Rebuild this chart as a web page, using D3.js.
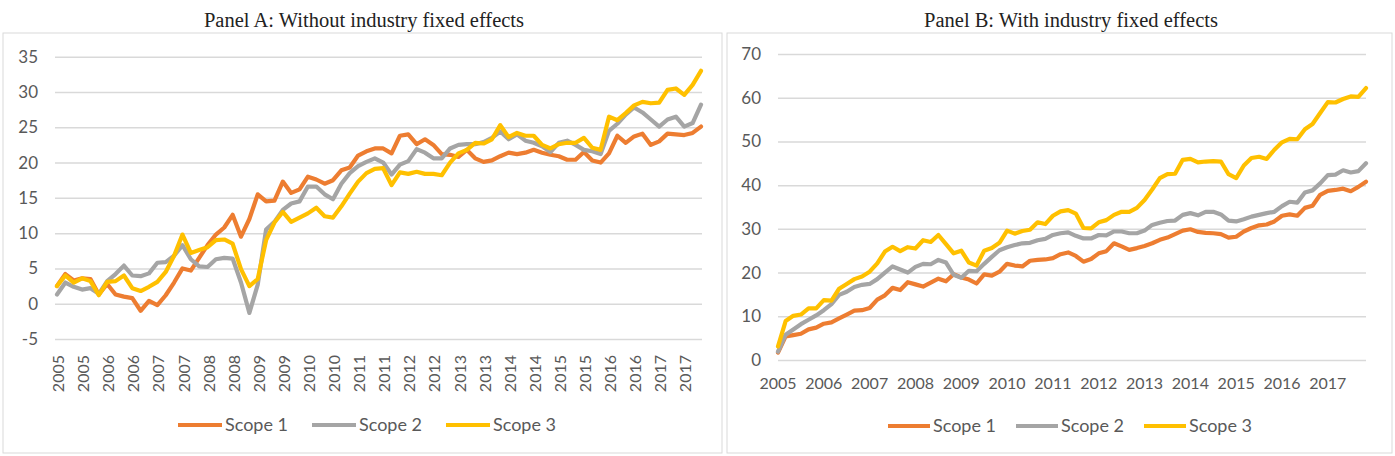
<!DOCTYPE html>
<html>
<head>
<meta charset="utf-8">
<script src="https://cdn.jsdelivr.net/npm/d3@7"></script>
<style>
  html, body { margin: 0; padding: 0; background: #fff; }
  svg { display: block; }
</style>
</head>
<body>
<svg id="chart" width="1395" height="456"></svg>
<script>
/* Two-panel line chart: cumulative scope 1/2/3 effects, bi-monthly samples 2005-2017 */

const SERIES_NAMES = ['Scope 1', 'Scope 2', 'Scope 3'];
const SERIES_COLORS = ['#ED7D31', '#A5A5A5', '#FFC000'];

// Panel A: category labels every third point (every six months)
const LABELS_A = ['2005', '2005', '2006', '2006', '2007', '2007', '2008', '2008', '2009', '2009',
  '2010', '2010', '2011', '2011', '2012', '2012', '2013', '2013', '2014', '2014',
  '2015', '2015', '2016', '2016', '2017', '2017'];
// Panel B: one label per year (every sixth point)
const LABELS_B = ['2005', '2006', '2007', '2008', '2009', '2010', '2011', '2012', '2013',
  '2014', '2015', '2016', '2017'];

const TICKS_A = [-5, 0, 5, 10, 15, 20, 25, 30, 35];
const TICKS_B = [0, 10, 20, 30, 40, 50, 60, 70];

const panelA_scope1 = [2.5, 4.2, 3.3, 3.6, 3.5, 1.3, 2.8, 1.3, 1.0, 0.8, -1.0, 0.4, -0.2, 1.2, 3.0, 5.0,
  4.7, 6.5, 8.3, 9.8, 10.8, 12.6, 9.5, 12.0, 15.5, 14.5, 14.6, 17.3, 15.7, 16.2, 18.0, 17.6,
  17.0, 17.5, 18.9, 19.3, 21.0, 21.6, 22.0, 22.0, 21.3, 23.8, 24.0, 22.6, 23.3, 22.5, 21.2, 21.1,
  20.8, 21.8, 20.6, 20.1, 20.3, 20.9, 21.4, 21.2, 21.4, 21.8, 21.4, 21.1, 20.9, 20.4, 20.4, 21.5,
  20.3, 20.0, 21.3, 23.8, 22.8, 23.7, 24.1, 22.5, 23.0, 24.1, 24.0, 23.9, 24.2, 25.1];
const panelA_scope2 = [1.3, 3.0, 2.4, 2.0, 2.2, 1.4, 3.2, 4.2, 5.4, 4.0, 3.9, 4.3, 5.8, 5.9, 6.8, 8.3,
  6.3, 5.3, 5.2, 6.3, 6.5, 6.4, 3.0, -1.3, 2.7, 10.5, 11.6, 13.3, 14.2, 14.5, 16.6, 16.6,
  15.5, 14.8, 17.0, 18.5, 19.5, 20.1, 20.6, 20.0, 18.3, 19.7, 20.2, 21.9, 21.4, 20.6, 20.6, 22.0,
  22.5, 22.6, 22.6, 22.9, 23.5, 24.4, 23.3, 24.0, 23.1, 22.8, 22.3, 21.5, 22.8, 23.1, 22.5, 21.8,
  21.6, 21.2, 24.5, 25.5, 26.8, 27.8, 27.1, 26.1, 25.1, 26.1, 26.5, 25.1, 25.6, 28.2];
const panelA_scope3 = [2.5, 4.0, 3.0, 3.6, 3.2, 1.2, 3.1, 3.2, 4.0, 2.2, 1.8, 2.4, 3.1, 4.5, 6.8, 9.8,
  7.2, 7.6, 8.0, 9.0, 9.1, 8.5, 4.9, 2.5, 3.5, 9.0, 11.5, 13.0, 11.6, 12.2, 12.8, 13.6,
  12.4, 12.2, 13.8, 15.6, 17.3, 18.5, 19.1, 19.2, 16.8, 18.6, 18.4, 18.7, 18.4, 18.4, 18.2, 20.0,
  21.3, 21.8, 22.8, 22.7, 23.3, 25.3, 23.6, 24.2, 23.8, 23.8, 22.5, 22.0, 22.6, 22.8, 22.8, 23.5,
  22.1, 21.8, 26.5, 26.0, 27.0, 28.1, 28.6, 28.4, 28.5, 30.3, 30.5, 29.6, 31.0, 33.0];

const panelB_scope1 = [1.7, 5.4, 5.7, 6.0, 7.0, 7.4, 8.3, 8.6, 9.5, 10.4, 11.3, 11.4, 11.9, 13.8, 14.8, 16.5,
  16.0, 17.8, 17.3, 16.8, 17.7, 18.6, 18.0, 19.6, 18.9, 18.4, 17.5, 19.6, 19.3, 20.2, 22.0, 21.6,
  21.4, 22.7, 22.9, 23.0, 23.3, 24.2, 24.6, 23.8, 22.5, 23.1, 24.4, 24.9, 26.7, 26.0, 25.2, 25.6,
  26.1, 26.7, 27.5, 28.0, 28.8, 29.6, 29.9, 29.3, 29.1, 29.0, 28.8, 28.0, 28.2, 29.4, 30.2, 30.8,
  31.0, 31.7, 33.0, 33.3, 33.0, 34.8, 35.3, 37.8, 38.7, 38.9, 39.2, 38.6, 39.6, 40.8];
const panelB_scope2 = [1.9, 5.8, 7.0, 8.2, 9.2, 10.2, 11.4, 12.8, 14.9, 15.6, 16.7, 17.2, 17.4, 18.5, 20.0, 21.4,
  20.7, 20.0, 21.3, 22.0, 21.9, 22.9, 22.3, 19.5, 18.8, 20.4, 20.3, 22.0, 23.6, 25.1, 25.8, 26.3,
  26.7, 26.8, 27.4, 27.7, 28.6, 29.0, 29.2, 28.4, 27.8, 27.8, 28.6, 28.5, 29.4, 29.4, 29.0, 29.0,
  29.6, 30.9, 31.4, 31.8, 31.9, 33.2, 33.6, 33.1, 33.9, 33.9, 33.3, 31.9, 31.7, 32.2, 32.8, 33.2,
  33.6, 33.9, 35.2, 36.2, 36.0, 38.3, 38.8, 40.4, 42.3, 42.4, 43.4, 42.9, 43.2, 45.0];
const panelB_scope3 = [3.1, 8.9, 10.1, 10.4, 11.8, 11.8, 13.7, 13.6, 16.3, 17.4, 18.5, 19.1, 20.2, 22.1, 24.8, 25.9,
  24.9, 25.8, 25.5, 27.4, 27.0, 28.6, 26.5, 24.4, 25.0, 22.3, 21.6, 25.0, 25.6, 26.8, 29.6, 28.9,
  29.5, 29.8, 31.5, 31.1, 33.0, 34.0, 34.3, 33.5, 30.2, 30.1, 31.5, 32.0, 33.2, 33.9, 33.9, 34.8,
  36.6, 39.0, 41.6, 42.5, 42.6, 45.8, 46.0, 45.2, 45.4, 45.5, 45.4, 42.5, 41.6, 44.5, 46.2, 46.5,
  46.0, 48.1, 49.8, 50.6, 50.5, 52.8, 54.0, 56.5, 59.0, 58.9, 59.7, 60.3, 60.2, 62.2];

const TEXT_FONT = 'Lato, "Open Sans", sans-serif';
const TEXT_COLOR = '#595959';
const GRID_COLOR = '#d9d9d9';
const LINE_W = 4.2;

const svg = d3.select('#chart');

function drawPanel(cfg) {
  const g = svg.append('g');

  g.append('rect')
    .attr('x', cfg.frame[0]).attr('y', cfg.frame[1])
    .attr('width', cfg.frame[2]).attr('height', cfg.frame[3])
    .attr('fill', '#fff').attr('stroke', GRID_COLOR).attr('stroke-width', 1);

  g.append('text')
    .attr('x', cfg.titleX)
    .attr('y', 27)
    .attr('text-anchor', 'middle')
    .style('font-family', '"Liberation Serif", "DejaVu Serif", serif')
    .style('font-size', '20.5px')
    .attr('fill', '#222')
    .text(cfg.title);

  const n = cfg.series[0].length;
  const x = d3.scaleLinear().domain([0, n - 1]).range(cfg.xRange);
  const y = d3.scaleLinear().domain(cfg.yDomain).range(cfg.yRange);

  // gridlines + y labels (plain hyphen for negatives, like the original)
  const yAxis = d3.axisLeft(y).tickValues(cfg.yTicks)
    .tickFormat((d) => String(d))
    .tickSize(-(cfg.gridRange[1] - cfg.gridRange[0])).tickPadding(17);
  const ya = g.append('g')
    .attr('transform', `translate(${cfg.gridRange[0]},0)`)
    .call(yAxis);
  ya.select('.domain').remove();
  ya.selectAll('.tick line').attr('stroke', GRID_COLOR).attr('stroke-width', 1.5);
  ya.selectAll('.tick text')
    .style('font-family', TEXT_FONT).style('font-size', '17px').attr('fill', TEXT_COLOR);

  // category labels
  const labelIdx = cfg.labels.map((_, i) => i * cfg.labelStep);
  const xl = g.append('g');
  const lt = xl.selectAll('text')
    .data(labelIdx)
    .join('text')
    .attr('dy', '0.35em')
    .style('font-family', TEXT_FONT).style('font-size', '16px').attr('fill', TEXT_COLOR)
    .text((d, i) => cfg.labels[i]);
  if (cfg.rotateLabels) {
    lt.attr('transform', (d) => `translate(${x(d) + 1.5},${cfg.labelY}) rotate(-90)`)
      .attr('text-anchor', 'end');
  } else {
    lt.attr('x', (d) => x(d)).attr('y', cfg.labelY).attr('text-anchor', 'middle');
  }

  // lines
  const line = d3.line().x((d, i) => x(i)).y((d) => y(d));
  g.append('g').selectAll('path')
    .data(cfg.series)
    .join('path')
    .attr('d', line)
    .attr('fill', 'none')
    .attr('stroke', (d, i) => SERIES_COLORS[i])
    .attr('stroke-width', LINE_W)
    .attr('stroke-linejoin', 'round')
    .attr('stroke-linecap', 'round');

  // legend, centred under the plot
  const leg = g.append('g');
  const items = leg.selectAll('g')
    .data(SERIES_NAMES)
    .join('g');
  items.append('line')
    .attr('x1', 0).attr('x2', cfg.legendLine)
    .attr('stroke', (d, i) => SERIES_COLORS[i])
    .attr('stroke-width', LINE_W);
  items.append('text')
    .attr('x', cfg.legendLine + 3).attr('dy', '0.35em')
    .style('font-family', TEXT_FONT).style('font-size', '18px').attr('fill', TEXT_COLOR)
    .text((d) => d);
  let offset = 0;
  const starts = [];
  items.each(function () {
    const w = cfg.legendLine + 3 + this.querySelector('text').getComputedTextLength();
    starts.push(offset);
    offset += w + cfg.legendGap;
  });
  const total = offset - cfg.legendGap;
  items.attr('transform', (d, i) => `translate(${starts[i]},0)`);
  leg.attr('transform', `translate(${cfg.legendCenter - total / 2},${cfg.legendY})`);
}

drawPanel({
  title: 'Panel A: Without industry fixed effects',
  frame: [3, 33, 719, 420],
  titleX: 364,
  series: [panelA_scope1, panelA_scope2, panelA_scope3],
  xRange: [57, 701],
  gridRange: [55, 702],
  yDomain: [-5, 35],
  yRange: [339, 56.7],
  yTicks: TICKS_A,
  labels: LABELS_A,
  labelStep: 3,
  rotateLabels: true,
  labelY: 355,
  legendCenter: 367,
  legendY: 425,
  legendLine: 44,
  legendGap: 24
});

drawPanel({
  title: 'Panel B: With industry fixed effects',
  frame: [727, 33, 665, 420],
  titleX: 1071,
  series: [panelB_scope1, panelB_scope2, panelB_scope3],
  xRange: [778, 1366],
  gridRange: [778, 1366],
  yDomain: [0, 70],
  yRange: [360, 54],
  yTicks: TICKS_B,
  labels: LABELS_B,
  labelStep: 6,
  rotateLabels: false,
  labelY: 383,
  legendCenter: 1070,
  legendY: 426,
  legendLine: 42,
  legendGap: 20
});
</script>
</body>
</html>
